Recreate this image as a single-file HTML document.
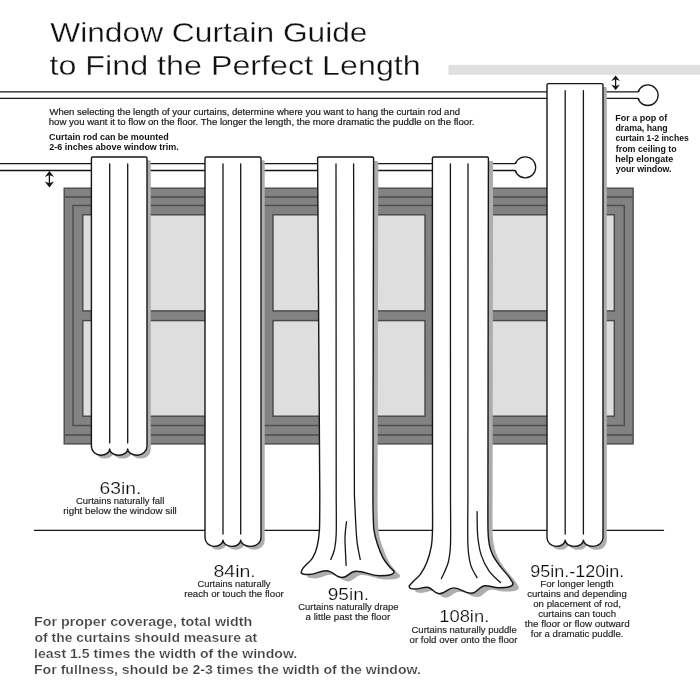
<!DOCTYPE html>
<html>
<head>
<meta charset="utf-8">
<title>Window Curtain Guide</title>
<style>
html,body{margin:0;padding:0;background:#fff;}
body{width:700px;height:700px;overflow:hidden;font-family:"Liberation Sans",sans-serif;}
svg{display:block;will-change:transform;}
text{font-family:"Liberation Sans",sans-serif;}
.t1{font-size:27.2px;fill:#111;stroke:#fff;stroke-width:0.3px;}
.d{font-size:8.6px;fill:#1a1a1a;stroke:#1a1a1a;stroke-width:0.18px;}
.db{font-size:8.6px;font-weight:bold;fill:#111;}
.h{font-size:17.1px;fill:#0d0d0d;stroke:#fff;stroke-width:0.22px;}
.s{font-size:9.3px;fill:#222;stroke:#222;stroke-width:0.15px;}
.p{font-size:13.1px;font-weight:bold;fill:#404040;stroke:#fff;stroke-width:0.22px;}
.ln{stroke:#161616;stroke-width:1.3;fill:none;stroke-linecap:round;stroke-linejoin:round;}
.cu{stroke:#161616;stroke-width:1.4;fill:#fff;stroke-linejoin:round;}
.sh{fill:#adadad;stroke:none;}
.wl{stroke:#4c4c4c;stroke-width:1.4;fill:none;}
</style>
</head>
<body>
<svg width="700" height="700" viewBox="0 0 700 700">
<rect x="0" y="0" width="700" height="700" fill="#fff"/>


<!-- grey band -->
<rect x="448.5" y="64.9" width="252" height="9.9" fill="#dfdfdf"/>



<!-- upper rod -->
<g id="rod-top">
<circle cx="647.8" cy="95.2" r="10.3" fill="#fff" stroke="#161616" stroke-width="1.3"/>
<rect x="-5" y="91.8" width="645.5" height="6.6" fill="#fff"/>
<path class="ln" d="M-5 91.8H637.6Q638.4 91.8 639 91M-5 98.4H637.6Q638.4 98.4 639 99.2"/>
</g>

<!-- lower rod -->
<g id="rod-low">
<circle cx="525.2" cy="167.3" r="10.5" fill="#fff" stroke="#161616" stroke-width="1.3"/>
<rect x="-5" y="163.6" width="522.5" height="6.9" fill="#fff"/>
<path class="ln" d="M-5 163.6H514.6Q515.4 163.6 516 162.8M-5 170.5H514.6Q515.4 170.5 516 171.3"/>
</g>

<!-- arrows -->
<g id="arrows" fill="#111" stroke="none">
<path d="M49.4 170.9L54 177L49.4 175.1L44.8 177ZM49.4 187.5L54 181.4L49.4 183.3L44.8 181.4Z"/>
<rect x="48.75" y="173" width="1.3" height="12"/>
<path d="M615.6 75.4L619.9 81L615.6 79.3L611.3 81ZM615.6 90.2L619.9 84.6L615.6 86.3L611.3 84.6Z"/>
<rect x="614.95" y="77" width="1.3" height="11"/>
</g>

<!-- WINDOW -->
<g id="window">
<rect x="64.2" y="188.2" width="568.9" height="255.7" fill="#828282" stroke="#4c4c4c" stroke-width="1.4"/>
<path class="wl" d="M64.2 197H633.1M64.2 435H633.1"/>
<rect class="wl" x="73" y="205.5" width="551.3" height="220"/>
<g fill="#dedede" stroke="#484848" stroke-width="1.4">
<rect x="82.8" y="214.8" width="172.2" height="96.1"/>
<rect x="82.8" y="320.6" width="172.2" height="95.6"/>
<rect x="273" y="214.8" width="152" height="96.1"/>
<rect x="273" y="320.6" width="152" height="95.6"/>
<rect x="443" y="214.8" width="171.3" height="96.1"/>
<rect x="443" y="320.6" width="171.3" height="95.6"/>
</g>
</g>

<!-- floor line -->
<path class="ln" d="M34.4 530.3H663.5" stroke-width="1.2"/>

<!-- CURTAIN 1 : 63in -->
<g id="c1">
<path class="sh" d="M92.7 157Q91.4 157 91.4 158.3V446.2A9.1 9 0 0 0 100.6 455.2A9.1 6.3 0 0 0 109.7 448.9A9 6.3 0 0 0 118.7 455.2A9 6.3 0 0 0 127.7 448.9A9.6 6.3 0 0 0 137.3 455.2A9.6 9 0 0 0 147 446.2V158.3Q147 157 145.7 157Z" transform="translate(3.8 3.3)"/>
<path class="cu" d="M92.7 157Q91.4 157 91.4 158.3V446.2A9.1 9 0 0 0 100.6 455.2A9.1 6.3 0 0 0 109.7 448.9A9 6.3 0 0 0 118.7 455.2A9 6.3 0 0 0 127.7 448.9A9.6 6.3 0 0 0 137.3 455.2A9.6 9 0 0 0 147 446.2V158.3Q147 157 145.7 157Z"/>
<path class="ln" d="M109.7 164V442.9M127.7 164V442.9"/>
</g>
<!-- CURTAIN 2 : 84in -->
<g id="c2">
<path class="sh" d="M206.3 157Q205 157 205 158.3V537.4A9 9 0 0 0 214 546.4A9 6.3 0 0 0 223 540.1A8.8 6.3 0 0 0 231.8 546.4A8.8 6.3 0 0 0 240.7 540.1A10.2 6.3 0 0 0 250.8 546.4A10.2 9 0 0 0 261 537.4V158.3Q261 157 259.7 157Z" transform="translate(3.7 3.3)"/>
<path class="cu" d="M206.3 157Q205 157 205 158.3V537.4A9 9 0 0 0 214 546.4A9 6.3 0 0 0 223 540.1A8.8 6.3 0 0 0 231.8 546.4A8.8 6.3 0 0 0 240.7 540.1A10.2 6.3 0 0 0 250.8 546.4A10.2 9 0 0 0 261 537.4V158.3Q261 157 259.7 157Z"/>
<path class="ln" d="M223 164V534.1M240.7 164V534.1"/>
</g>
<!-- CURTAIN 3 : 95in -->
<g id="c3">
<path class="sh" d="M323.6 160.9Q322.3 160.9 322.3 162.2L324.5 498.9C324.5 504.8 324.7 525.6 324.4 534.3C324.1 542.9 323.7 546.2 322.8 550.8C321.8 555.4 320.3 558.9 318.6 561.8C316.9 564.7 314.5 566.2 312.8 568C311.1 569.8 309.5 571.4 308.6 572.7C307.7 574 307.5 575.4 307.3 575.9C306.7 577.8 310.2 578.4 314.5 578.4C322 578.4 324.9 574.6 332.4 574.6C339 574.6 341.5 581.4 348.1 581.4C353.9 581.4 356 575.1 361.8 575.1C371.8 575.1 375.5 579.6 385.5 579.6C394.2 579.6 400.8 578.7 400 575.1C399.2 574.3 397.1 572.6 395.3 570.4C393.5 568.2 391.1 565.6 389 561.8C386.9 558 384.6 552.2 382.9 547.6C381.2 543 379.8 539.6 379 534.3C378.1 529 378 521.8 377.8 515.9C377.6 510 377.6 501.7 377.6 498.9L378.3 162.2Q378.3 160.9 377 160.9Z"/>
<path class="cu" d="M318.9 157Q317.6 157 317.6 158.3L319.8 495C319.7 500.9 319.9 521.8 319.4 530.4C318.9 539 318.1 542.3 317 546.9C315.9 551.5 314.3 555 312.6 557.9C310.9 560.8 308.5 562.3 306.8 564.1C305.1 565.9 303.5 567.5 302.6 568.8C301.7 570.1 301.5 571.5 301.3 572C300.7 573.9 304.2 574.5 308.5 574.5C316 574.5 318.9 570.7 326.4 570.7C333 570.7 335.5 577.5 342.1 577.5C347.9 577.5 350 571.2 355.8 571.2C365.8 571.2 369.5 575.7 379.5 575.7C388.2 575.7 394.8 574.8 394 571.2C393.2 570.4 391.1 568.7 389.3 566.5C387.5 564.3 385 561.7 383 557.9C381 554.1 378.8 548.3 377.3 543.7C375.8 539.1 374.7 535.7 374 530.4C373.3 525.1 373.3 517.9 373.1 512C372.9 506.1 372.9 497.8 372.9 495L373.6 158.3Q373.6 157 372.3 157Z"/>
<path class="ln" d="M336 164L336.2 495C336.2 501.6 336.5 525.1 336.2 534.3C335.9 543.5 335.2 545.8 334.3 550C333.4 554.2 331.4 557.8 330.8 559.4M353.6 164L354.4 495C354.6 498.9 355.1 510.8 355.5 518.6C355.9 526.5 356.3 535.3 357.1 542.1C357.9 548.9 359.7 556.5 360.2 559.4M346.5 521.7C346.2 524.3 345.1 531.9 345 537.4C344.9 542.9 345.4 550 345.6 554.7C345.8 559.4 346 563.6 346.1 565.4"/>
</g>
<!-- CURTAIN 4 : 108in -->
<g id="c4">
<path class="sh" d="M438.4 160.9Q437.1 160.9 437.1 162.2L437.2 503.9C437.2 509 437.3 526.6 437.2 534.3C437.2 542 437.6 544.9 436.8 550.3C436.1 555.6 434.5 561.8 432.8 566.4C431.1 571 428.7 574.9 426.5 578C424.3 581.1 421.3 583.3 419.4 585.2C417.5 587.1 416 588.9 415.3 589.6C414.7 592.1 417.4 592.9 420.5 592.9C425.8 592.9 427.8 591.1 433 591.1C438.2 591.1 440.1 597.7 445.3 597.7C451.3 597.7 453.6 591.8 459.6 591.8C467.1 591.8 469.9 597.1 477.4 597.1C483.2 597.1 485.4 589.7 491.2 589.7C497 589.7 499.2 591.6 505 591.6C513.3 591.6 519.7 590.7 518.9 586.9C518.2 585.9 517 583.5 514.9 580.7C512.8 577.9 508.7 573.6 506 570C503.3 566.4 500.7 562.9 498.9 559.3C497 555.7 495.8 552.7 494.7 548.5C493.7 544.3 493.1 541.7 492.7 534.3C492.4 526.9 492.6 509 492.6 503.9L493.1 162.2Q493.1 160.9 491.8 160.9Z"/>
<path class="cu" d="M433.7 157Q432.4 157 432.4 158.3L432.5 500C432.5 505.1 432.7 522.7 432.5 530.4C432.3 538.1 432.2 541 431.3 546.4C430.4 551.8 428.6 557.9 426.8 562.5C425 567.1 422.7 571 420.5 574.1C418.3 577.2 415.3 579.4 413.4 581.3C411.5 583.2 410 585 409.3 585.7C408.7 588.2 411.4 589 414.5 589C419.8 589 421.8 587.2 427 587.2C432.2 587.2 434.1 593.8 439.3 593.8C445.3 593.8 447.6 587.9 453.6 587.9C461.1 587.9 463.9 593.2 471.4 593.2C477.2 593.2 479.4 585.8 485.2 585.8C491 585.8 493.2 587.7 499 587.7C507.3 587.7 513.7 586.8 512.9 583C512.2 582 511 579.6 508.9 576.8C506.8 574 502.7 569.7 500 566.1C497.3 562.5 494.7 559 492.9 555.4C491.1 551.8 490.1 548.8 489.3 544.6C488.5 540.4 488.2 537.8 488 530.4C487.8 523 487.9 505.1 487.9 500L488.4 158.3Q488.4 157 487.1 157Z"/>
<path class="ln" d="M450.4 164L450.5 500C450.5 507.4 450.9 534.2 450.5 544.6C450.1 555 449.7 556.8 448.2 562.5C446.7 568.2 442.5 575.9 441.4 578.6M468 164L467.9 500C467.9 507.4 467.5 533.9 467.9 544.6C468.3 555.3 469 558.8 470.5 564.3C472 569.8 476 575.5 477.1 577.7M477.1 511.6C477.2 515.6 477 528.4 477.7 535.7C478.4 543 479.4 549.5 481.3 555.4C483.2 561.3 486.1 566.9 489.3 571.4C492.5 575.9 498.6 580.6 500.5 582.5"/>
</g>
<!-- CURTAIN 5 : 95-120in -->
<g id="c5">
<path class="sh" d="M548.3 83.6Q547 83.6 547 84.9V537.4A9.1 9 0 0 0 556.1 546.4A9.1 6.3 0 0 0 565.2 540.1A9.1 6.3 0 0 0 574.3 546.4A9.1 6.3 0 0 0 583.4 540.1A9.8 6.3 0 0 0 593.2 546.4A9.8 9 0 0 0 603 537.4V84.9Q603 83.6 601.7 83.6Z" transform="translate(3.8 3.4)"/>
<path class="cu" d="M548.3 83.6Q547 83.6 547 84.9V537.4A9.1 9 0 0 0 556.1 546.4A9.1 6.3 0 0 0 565.2 540.1A9.1 6.3 0 0 0 574.3 546.4A9.1 6.3 0 0 0 583.4 540.1A9.8 6.3 0 0 0 593.2 546.4A9.8 9 0 0 0 603 537.4V84.9Q603 83.6 601.7 83.6Z"/>
<path class="ln" d="M565.2 90.6V534.1M583.4 90.6V534.1"/>
</g>

<!-- TEXT -->
<text class="t1" x="50.25" y="42" textLength="317.25" lengthAdjust="spacingAndGlyphs">Window Curtain Guide</text>
<text class="t1" x="49.50" y="75" textLength="371.26" lengthAdjust="spacingAndGlyphs">to Find the Perfect Length</text>
<text class="d" x="49.50" y="115" textLength="410.50" lengthAdjust="spacingAndGlyphs">When selecting the length of your curtains, determine where you want to hang the curtain rod and</text>
<text class="d" x="48.75" y="125" textLength="425.75" lengthAdjust="spacingAndGlyphs">how you want it to flow on the floor. The longer the length, the more dramatic the puddle on the floor.</text>
<text class="db" x="49.00" y="140" textLength="119.75" lengthAdjust="spacingAndGlyphs">Curtain rod can be mounted</text>
<text class="db" x="49.25" y="150" textLength="129.50" lengthAdjust="spacingAndGlyphs">2-6 inches above window trim.</text>
<text class="db" x="615.26" y="121" textLength="51.99" lengthAdjust="spacingAndGlyphs">For a pop of</text>
<text class="db" x="615.50" y="131" textLength="52.24" lengthAdjust="spacingAndGlyphs">drama, hang</text>
<text class="db" x="615.50" y="141" textLength="73.24" lengthAdjust="spacingAndGlyphs">curtain 1-2 inches</text>
<text class="db" x="615.75" y="152" textLength="60.99" lengthAdjust="spacingAndGlyphs">from ceiling to</text>
<text class="db" x="615.25" y="162" textLength="57.99" lengthAdjust="spacingAndGlyphs">help elongate</text>
<text class="db" x="615.75" y="172" textLength="55.74" lengthAdjust="spacingAndGlyphs">your window.</text>
<text class="h" x="99.48" y="494" textLength="41.83" lengthAdjust="spacingAndGlyphs">63in.</text>
<text class="s" x="76.00" y="504" textLength="88.25" lengthAdjust="spacingAndGlyphs">Curtains naturally fall</text>
<text class="s" x="63.25" y="514" textLength="113.50" lengthAdjust="spacingAndGlyphs">right below the window sill</text>
<text class="h" x="213.47" y="577" textLength="42.33" lengthAdjust="spacingAndGlyphs">84in.</text>
<text class="s" x="197.51" y="587" textLength="72.99" lengthAdjust="spacingAndGlyphs">Curtains naturally</text>
<text class="s" x="184.25" y="597" textLength="99.50" lengthAdjust="spacingAndGlyphs">reach or touch the floor</text>
<text class="h" x="327.73" y="600" textLength="41.31" lengthAdjust="spacingAndGlyphs">95in.</text>
<text class="s" x="298.25" y="610" textLength="100.24" lengthAdjust="spacingAndGlyphs">Curtains naturally drape</text>
<text class="s" x="305.50" y="620" textLength="84.74" lengthAdjust="spacingAndGlyphs">a little past the floor</text>
<text class="h" x="439.20" y="622" textLength="50.10" lengthAdjust="spacingAndGlyphs">108in.</text>
<text class="s" x="411.50" y="633" textLength="105.24" lengthAdjust="spacingAndGlyphs">Curtains naturally puddle</text>
<text class="s" x="409.50" y="643" textLength="107.99" lengthAdjust="spacingAndGlyphs">or fold over onto the floor</text>
<text class="h" x="530.24" y="577" textLength="94.02" lengthAdjust="spacingAndGlyphs">95in.-120in.</text>
<text class="s" x="540.25" y="587" textLength="73.50" lengthAdjust="spacingAndGlyphs">For longer length</text>
<text class="s" x="527.25" y="597" textLength="99.50" lengthAdjust="spacingAndGlyphs">curtains and depending</text>
<text class="s" x="533.25" y="607" textLength="87.75" lengthAdjust="spacingAndGlyphs">on placement of rod,</text>
<text class="s" x="538.25" y="617" textLength="77.74" lengthAdjust="spacingAndGlyphs">curtains can touch</text>
<text class="s" x="524.75" y="627" textLength="105.00" lengthAdjust="spacingAndGlyphs">the floor or flow outward</text>
<text class="s" x="530.75" y="637" textLength="92.75" lengthAdjust="spacingAndGlyphs">for a dramatic puddle.</text>
<text class="p" x="34.00" y="626" textLength="218.25" lengthAdjust="spacingAndGlyphs">For proper coverage, total width</text>
<text class="p" x="34.50" y="642" textLength="222.75" lengthAdjust="spacingAndGlyphs">of the curtains should measure at</text>
<text class="p" x="34.00" y="658" textLength="263.25" lengthAdjust="spacingAndGlyphs">least 1.5 times the width of the window.</text>
<text class="p" x="34.00" y="674" textLength="387.00" lengthAdjust="spacingAndGlyphs">For fullness, should be 2-3 times the width of the window.</text>



</svg>
</body>
</html>
